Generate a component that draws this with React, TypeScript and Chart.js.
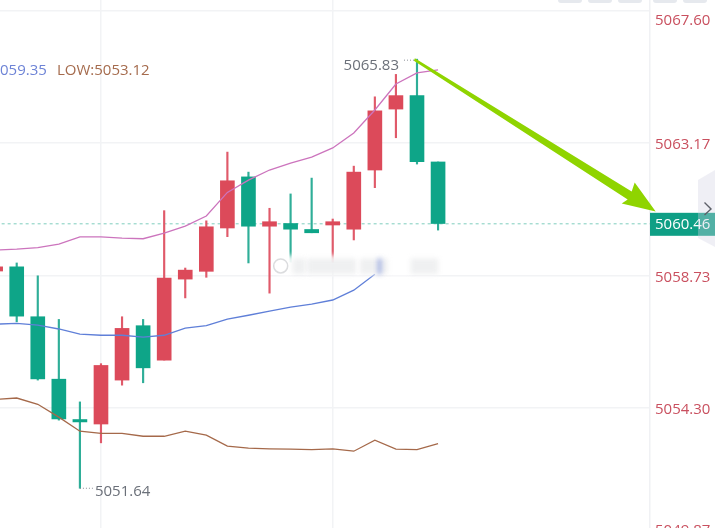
import { useEffect, useRef } from "react"
import { Chart, registerables } from "chart.js"

Chart.register(...registerables)

// candle position on the x scale, -1 is the one cut off by the left edge
const candleIndex = [-1, 0, 1, 2, 3, 4, 5, 6, 7, 8, 9, 10, 11, 12, 13, 14, 15, 16, 17, 18, 19, 20]
const opens = [5058.88, 5059.02, 5057.35, 5055.26, 5053.91, 5053.76, 5055.23, 5057.05, 5055.9, 5058.61, 5058.87, 5060.32, 5062.03, 5060.38, 5060.47, 5060.27, 5060.42, 5060.28, 5062.26, 5064.3, 5064.75, 5062.53]
const closes = [5059.02, 5057.37, 5055.27, 5053.93, 5053.83, 5055.72, 5056.96, 5055.64, 5058.64, 5058.91, 5060.36, 5061.9, 5060.38, 5060.53, 5060.28, 5060.16, 5060.53, 5062.19, 5064.24, 5064.75, 5062.54, 5060.47]
const highs = [5059.02, 5059.15, 5058.72, 5057.26, 5054.5, 5055.78, 5057.35, 5057.26, 5060.9, 5058.98, 5060.56, 5062.86, 5062.19, 5060.98, 5061.46, 5061.99, 5060.62, 5062.39, 5064.71, 5065.46, 5065.97, 5062.53]
const lows = [5058.88, 5057.18, 5055.23, 5053.89, 5051.61, 5053.13, 5055.06, 5055.14, 5055.9, 5057.98, 5058.67, 5060.03, 5059.15, 5058.14, 5059.18, 5060.16, 5059.18, 5059.92, 5061.67, 5063.34, 5062.46, 5060.25]

const upperBand = [5059.58, 5059.61, 5059.66, 5059.78, 5060.02, 5060.02, 5059.98, 5059.96, 5060.15, 5060.38, 5060.72, 5061.51, 5061.92, 5062.26, 5062.49, 5062.69, 5063.0, 5063.5, 5064.27, 5065.14, 5065.51, 5065.61]
const midBand = [5057.1, 5057.13, 5057.07, 5056.94, 5056.77, 5056.73, 5056.73, 5056.67, 5056.73, 5056.97, 5057.05, 5057.27, 5057.4, 5057.54, 5057.67, 5057.77, 5057.91, 5058.24, 5058.77]
const lowerBand = [5054.58, 5054.63, 5054.42, 5053.99, 5053.52, 5053.45, 5053.45, 5053.35, 5053.35, 5053.52, 5053.39, 5053.02, 5052.95, 5052.93, 5052.92, 5052.9, 5052.93, 5052.85, 5053.22, 5052.92, 5052.9, 5053.1]

const yTicks = [5067.6, 5063.17, 5058.73, 5054.3, 5049.87]
const xGridAt = [4, 15]
const lastPrice = 5060.46

const RED = "#dc4a5a"
const GREEN = "#0ea588"
const RED_WICK = "#e05a6a"
const GREEN_WICK = "#2fae98"
const FONT = '"Open Sans", sans-serif'

const isUp = (i: number) => closes[i] >= opens[i]

const overlayPlugin = {
  id: "overlay",
  afterDatasetsDraw(chart: any) {
    const { ctx, scales } = chart
    const px = (v: number) => scales.x.getPixelForValue(v)
    const py = (v: number) => scales.y.getPixelForValue(v)
    ctx.save()
    ctx.textBaseline = "middle"

    // blurred watermark over the candles
    ctx.save()
    ctx.filter = "blur(2.5px)"
    const wmTop = py(5059.4)
    const wmBottom = py(5058.75)
    ctx.fillStyle = "rgba(255,255,255,0.92)"
    ctx.fillRect(px(12.4), wmTop, px(20.1) - px(12.4), wmBottom - wmTop)
    ctx.fillStyle = "rgba(205,208,212,0.32)"
    const blockTop = py(5059.3)
    const blockBottom = py(5058.78)
    ctx.fillRect(px(13.1), blockTop, px(13.7) - px(13.1), blockBottom - blockTop)
    ctx.fillRect(px(13.8), blockTop, px(16.1) - px(13.8), blockBottom - blockTop)
    ctx.fillRect(px(16.3), blockTop, px(17.6) - px(16.3), blockBottom - blockTop)
    ctx.fillRect(px(18.7), blockTop, px(20) - px(18.7), blockBottom - blockTop)
    ctx.fillStyle = "rgba(100,125,215,0.7)"
    ctx.fillRect(px(17.15), py(5059.3), 3, py(5058.77) - py(5059.3))
    ctx.restore()
    ctx.strokeStyle = "rgba(195,197,200,0.6)"
    ctx.lineWidth = 1.5
    ctx.beginPath()
    ctx.arc(px(12.53), py(5059.05), 7, 0, Math.PI * 2)
    ctx.stroke()

    // high / low callouts
    ctx.lineWidth = 1
    ctx.font = `15px ${FONT}`
    ctx.fillStyle = "#6b7079"
    ctx.textAlign = "right"
    ctx.fillText("5065.83", px(19) - 18, py(5065.97) + 7)
    ctx.textAlign = "left"
    ctx.fillText("5051.64", px(3) + 15, py(5051.61) + 3)
    ctx.strokeStyle = "#8a8f96"
    ctx.setLineDash([1, 2])
    ctx.beginPath()
    ctx.moveTo(px(19), py(5065.97) + 1)
    ctx.lineTo(px(19) - 14, py(5065.97) + 1)
    ctx.moveTo(px(3), py(5051.61))
    ctx.lineTo(px(3) + 13, py(5051.61))
    ctx.stroke()
    ctx.setLineDash([])

    // legend, the left part of it runs off the page
    ctx.textAlign = "left"
    ctx.fillStyle = "#6d83d6"
    ctx.fillText("059.35", 0, 71)
    ctx.fillStyle = "#a56b4d"
    ctx.fillText("LOW:5053.12", 57, 71)

    // last price tag
    const tagY = py(lastPrice)
    ctx.fillStyle = "#0f9f85"
    ctx.fillRect(650, tagY - 11, 65, 23)
    ctx.fillStyle = "#ffffff"
    ctx.fillText(lastPrice.toFixed(2), 655, tagY + 1)

    // side handle
    ctx.fillStyle = "rgba(210,210,225,0.35)"
    ctx.beginPath()
    ctx.moveTo(715, 170)
    ctx.lineTo(698, 180)
    ctx.lineTo(698, 238)
    ctx.lineTo(715, 247)
    ctx.closePath()
    ctx.fill()
    ctx.strokeStyle = "#5d6068"
    ctx.lineWidth = 1.4
    ctx.beginPath()
    ctx.moveTo(704.5, 202.5)
    ctx.lineTo(711, 209)
    ctx.lineTo(704.5, 215)
    ctx.stroke()

    // tabs cut off at the top of the page
    ctx.fillStyle = "#e6e9ee"
    for (const tabX of [558, 588, 618, 653, 683]) {
      ctx.beginPath()
      ctx.roundRect(tabX, -4, 24, 7, 3)
      ctx.fill()
    }

    // hand drawn arrow
    const sx = px(18.9)
    const sy = py(5065.97)
    const tx = px(30.33)
    const ty = py(5060.87)
    ctx.fillStyle = "#8fd400"
    ctx.beginPath()
    ctx.moveTo(sx, sy - 1)
    ctx.lineTo(tx - 24, ty - 20)
    ctx.lineTo(tx - 21, ty - 29)
    ctx.lineTo(tx, ty)
    ctx.lineTo(tx - 34, ty - 8)
    ctx.lineTo(tx - 28, ty - 12)
    ctx.lineTo(sx - 1, sy + 1.5)
    ctx.closePath()
    ctx.fill()
    ctx.restore()
  },
}

export default function App() {
  const chartRef = useRef<HTMLCanvasElement>(null)

  useEffect(() => {
    if (!chartRef.current) return

    const chart = new Chart(chartRef.current, {
      type: "bar",
      plugins: [overlayPlugin],
      data: {
        datasets: [
          {
            type: "line",
            data: upperBand.map((v, i) => ({ x: candleIndex[i], y: v })),
            borderColor: "#cc74bd",
            borderWidth: 1.3,
            pointRadius: 0,
            order: 1,
          },
          {
            type: "line",
            data: midBand.map((v, i) => ({ x: candleIndex[i], y: v })),
            borderColor: "#5f7fd8",
            borderWidth: 1.3,
            pointRadius: 0,
            order: 1,
          },
          {
            type: "line",
            data: lowerBand.map((v, i) => ({ x: candleIndex[i], y: v })),
            borderColor: "#a5694a",
            borderWidth: 1.3,
            pointRadius: 0,
            order: 1,
          },
          {
            type: "bar",
            data: candleIndex.map((x, i) => ({ x, y: [opens[i], closes[i]] })),
            backgroundColor: candleIndex.map((_, i) => (isUp(i) ? RED : GREEN)),
            barThickness: 14,
            grouped: false,
            order: 2,
          },
          {
            type: "bar",
            data: candleIndex.map((x, i) => ({ x, y: [lows[i], highs[i]] })),
            backgroundColor: candleIndex.map((_, i) => (isUp(i) ? RED_WICK : GREEN_WICK)),
            barThickness: 1.5,
            grouped: false,
            order: 3,
          },
          {
            type: "line",
            data: [
              { x: -1, y: lastPrice },
              { x: 31, y: lastPrice },
            ],
            borderColor: "#7fcdbd",
            borderWidth: 1,
            borderDash: [3, 3],
            pointRadius: 0,
            order: 4,
          },
        ],
      },
      options: {
        responsive: false,
        animation: false,
        layout: { padding: 0 },
        plugins: {
          legend: { display: false },
          tooltip: { enabled: false },
        },
        scales: {
          x: {
            type: "linear",
            offset: false,
            min: -0.793,
            max: 30.06,
            afterBuildTicks: (scale: any) => {
              scale.ticks = xGridAt.map((value) => ({ value }))
            },
            ticks: { display: false },
            border: { display: false },
            grid: { color: "#f2f3f5", drawTicks: false, lineWidth: 1.5, offset: false },
          },
          y: {
            type: "linear",
            position: "right",
            min: 5050.28,
            max: 5067.95,
            afterBuildTicks: (scale: any) => {
              scale.ticks = yTicks.map((value) => ({ value }))
            },
            afterFit: (scale: any) => {
              scale.width = 65
              scale.paddingTop = 0
              scale.paddingBottom = 0
            },
            ticks: {
              autoSkip: false,
              padding: 5,
              labelOffset: 2,
              color: "#c9505f",
              font: (c: any) => ({ family: FONT, size: 15, lineHeight: c.index === 0 ? "17px" : "24px" }),
              // top and bottom labels sit inside the plot, blank line nudges them
              callback: (value: any) => {
                const label = Number(value).toFixed(2)
                if (value === yTicks[0]) return ["", label]
                if (value === yTicks[yTicks.length - 1]) return [label, ""]
                return label
              },
            },
            border: { color: "#f0f1f4", width: 1.5 },
            grid: { color: "#f2f3f5", drawTicks: false, lineWidth: 1.5 },
          },
        },
      },
    } as any)

    return () => {
      chart.destroy()
    }
  }, [])

  return (
    <div style={{ position: "fixed", left: 0, top: 0, width: 715, height: 528, background: "#fff" }}>
      <canvas ref={chartRef} width={715} height={528} style={{ display: "block" }} />
    </div>
  )
}
